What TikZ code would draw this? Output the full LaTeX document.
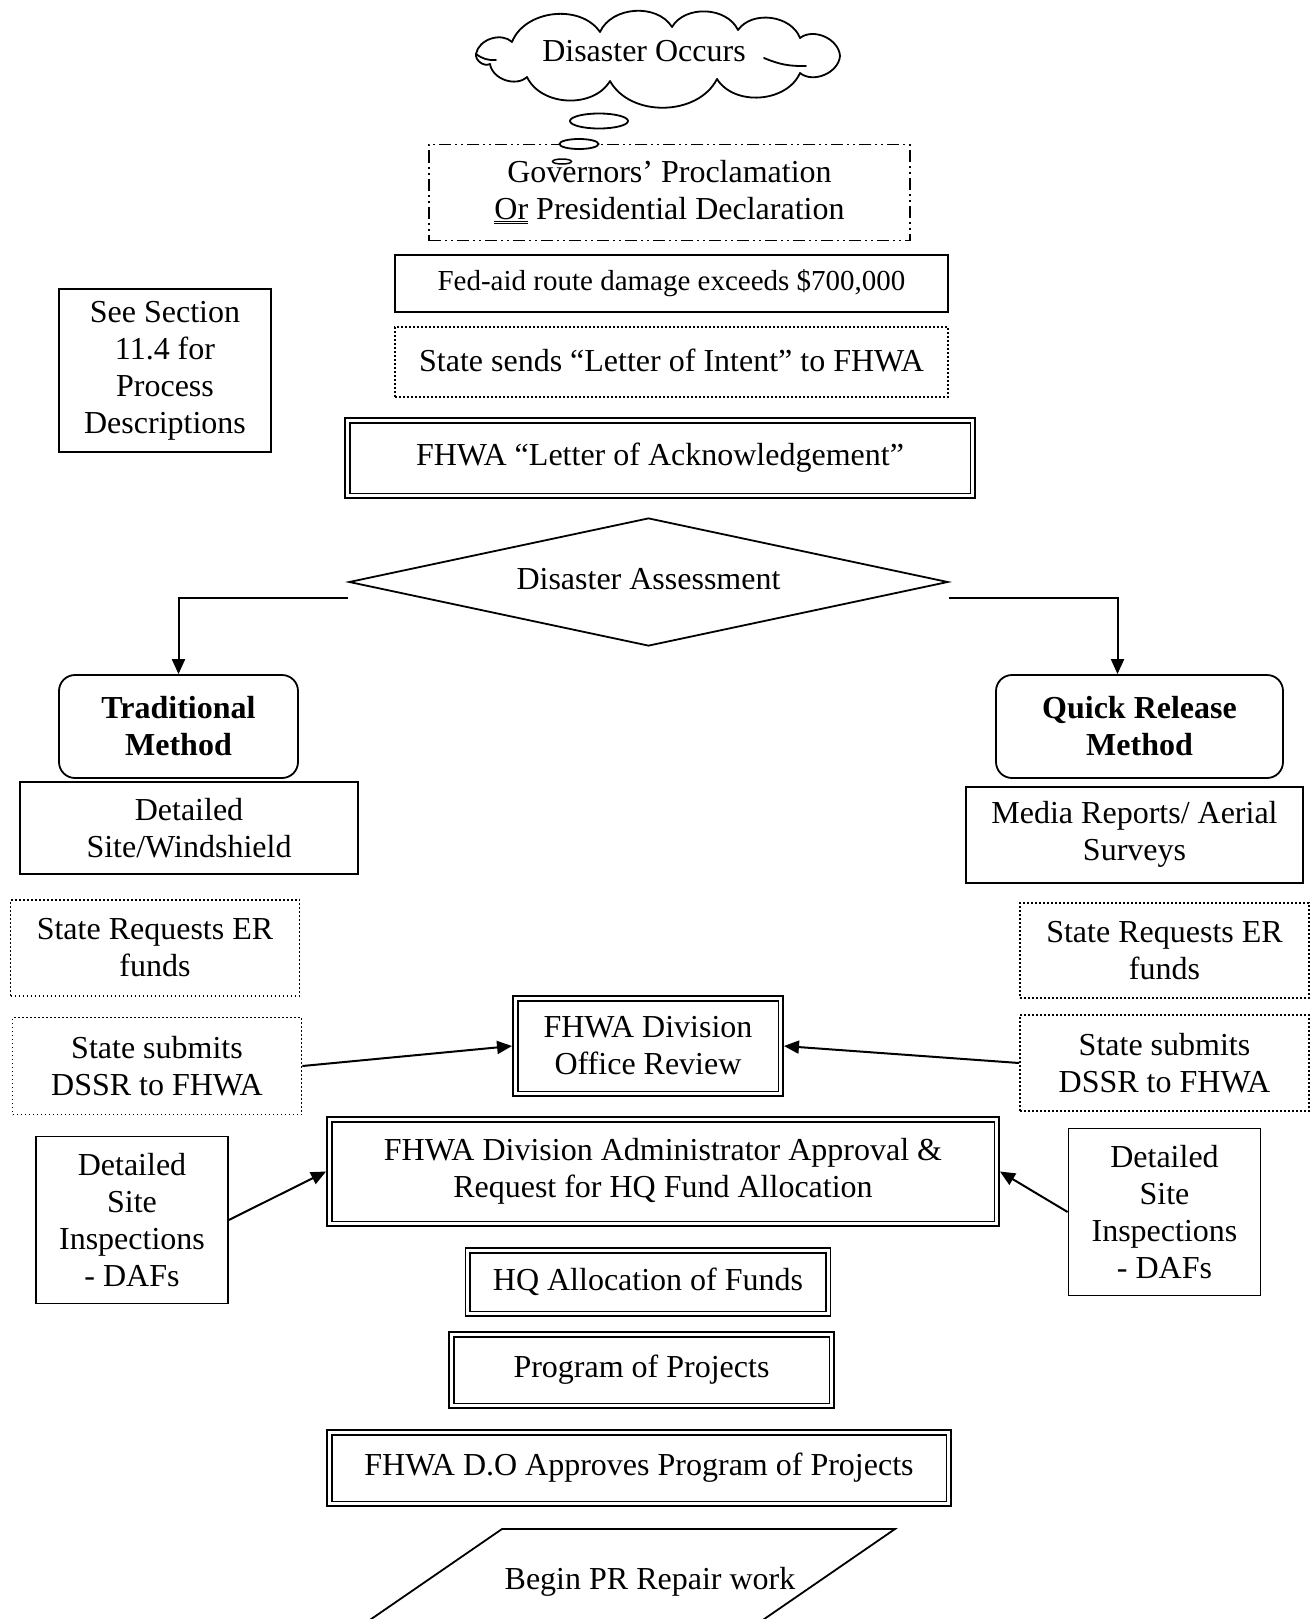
\documentclass[tikz,border=0pt]{standalone}
\usepackage{fontspec}
\setmainfont{Liberation Serif}
\usetikzlibrary{shapes.geometric,arrows.meta}
\newcommand\dblin[1]{\draw[dblinner] ([shift={(5.5pt,-5.5pt)}]#1.north west) rectangle ([shift={(-5.5pt,5.5pt)}]#1.south east);}
\begin{document}
\begin{tikzpicture}[x=1pt,y=-1pt,
  every node/.style={font=\fontsize{32pt}{37pt}\selectfont, inner sep=0pt, align=center},
  box/.style={draw, line width=1.8pt},
  dotbox/.style={draw, line width=1.8pt, dash pattern=on 1.8pt off 2.2pt},
  dashdotbox/.style={draw, line width=1.8pt, dash pattern=on 12pt off 4pt on 2pt off 4pt on 2pt off 4pt},
  dblbox/.style={draw, line width=1.9pt},
  dblinner/.style={draw, line width=1.9pt},
  roundbox/.style={draw, line width=1.8pt, rounded corners=16pt, font=\bfseries\fontsize{32pt}{37pt}\selectfont},
  bubble/.style={draw, ellipse, fill=white, line width=1.8pt},
  puff/.style={bend left=62},
  cloudline/.style={line width=1.8pt, line join=round, line cap=round},
  conn/.style={line width=2pt, -{Triangle[length=15pt,width=13pt]}}
]
\fill[white] (0,0) rectangle (1312,1619);
\useasboundingbox (0,0) rectangle (1312,1619);
\clip (0,0) rectangle (1312,1619);

% cloud
\node (cloud) at (644,51) {Disaster Occurs};
\draw[cloudline] (476,54) to[puff] (512,42) to[puff] (600,32) to[puff] (672,27)
  to[puff] (738,30) to[puff] (800,38) to[puff] (840,56) to[puff] (800,73)
  to[puff] (717,79) to[puff] (610,81) to[puff] (527,77) to[puff] (490,64)
  to[puff] cycle;
\draw[cloudline] (476,54) to[bend right=20] (496,60);
\draw[cloudline] (764,58) to[bend right=12] (806,66);

% governors
\node[dashdotbox, minimum width=481pt, minimum height=96pt] (gov) at (669.5,192.5)
  {Governors’ Proclamation\\\underline{\underline{Or}} Presidential Declaration};

% thought bubbles
\node[bubble, minimum width=58pt, minimum height=15pt] (b1) at (599,121) {};
\node[bubble, minimum width=39pt, minimum height=10pt] (b2) at (579,144) {};
\node[bubble, minimum width=19pt, minimum height=5pt, line width=1.5pt] (b3) at (562,161.5) {};

\node[box, minimum width=553pt, minimum height=57pt, font=\fontsize{29pt}{34pt}\selectfont] (fed) at (671.5,283.5)
  {Fed-aid route damage exceeds \$700,000};

\node[dotbox, minimum width=553pt, minimum height=70pt] (intent) at (671.5,362)
  {\raisebox{3pt}{State sends “Letter of Intent” to FHWA}};

\node[dblbox, minimum width=630pt, minimum height=80pt] (ack) at (660,458)
  {FHWA “Letter of Acknowledgement”};
\dblin{ack}

\node[box, minimum width=212pt, minimum height=163pt] (see) at (165,370.5)
  {See Section\\11.4 for\\Process\\Descriptions};

% diamond
\node[diamond, draw, line width=1.8pt, aspect=4.7, minimum width=599pt, minimum height=128pt] (dia) at (648.5,582)
  {\raisebox{7pt}{Disaster Assessment}};

\node[roundbox, minimum width=239pt, minimum height=103pt] (trad) at (178.5,726.5) {Traditional\\Method};
\node[roundbox, minimum width=287pt, minimum height=103pt] (qr) at (1139.5,726.5) {Quick Release\\Method};

\coordinate (dL) at ([yshift=-16pt]dia.west);
\coordinate (dR) at ([yshift=-16pt]dia.east);
\draw[conn] (dL) -| (trad.north);
\draw[conn] (dR) -| ([xshift=-22pt]qr.north);

\node[box, minimum width=338pt, minimum height=92pt] (site) at (189,828) {Detailed\\Site/Windshield};
\node[box, minimum width=337pt, minimum height=96pt] (media) at (1134.5,834.6) {Media Reports/ Aerial\\Surveys};

\node[dotbox, minimum width=289pt, minimum height=96pt] (reqL) at (155,948) {State Requests ER\\funds};
\node[dotbox, minimum width=289pt, minimum height=95pt] (reqR) at (1164.5,950.5) {State Requests ER\\funds};

\node[dotbox, minimum width=289pt, minimum height=97pt] (dssrL) at (157,1066) {State submits\\DSSR to FHWA};
\node[dotbox, minimum width=289pt, minimum height=96pt] (dssrR) at (1164.5,1063) {State submits\\DSSR to FHWA};

\node[dblbox, minimum width=270pt, minimum height=100pt] (dor) at (648,1046) {FHWA Division\\Office Review};
\dblin{dor}

\node[dblbox, minimum width=672pt, minimum height=109pt] (admin) at (663,1171.5)
  {FHWA Division Administrator Approval \&\\Request for HQ Fund Allocation};
\dblin{admin}

\node[box, minimum width=192pt, minimum height=167pt] (dafL) at (132,1220) {Detailed\\Site\\Inspections\\- DAFs};
\node[box, minimum width=192pt, minimum height=167pt] (dafR) at (1164.5,1212) {Detailed\\Site\\Inspections\\- DAFs};

\draw[conn] (dssrL.east) -- (dor.west);
\draw[conn] (dssrR.west) -- (dor.east);
\draw[conn] (dafL.east) -- (admin.west);
\draw[conn] (dafR.west) -- (admin.east);

\node[dblbox, minimum width=365pt, minimum height=68pt] (hq) at (648,1282) {HQ Allocation of Funds};
\dblin{hq}
\node[dblbox, minimum width=385pt, minimum height=76pt] (pop) at (641.5,1370) {Program of Projects};
\dblin{pop}
\node[dblbox, minimum width=624pt, minimum height=76pt] (doa) at (639,1468) {FHWA D.O Approves Program of Projects};
\dblin{doa}

% parallelogram
\draw[line width=1.8pt] (502,1529) -- (895,1529) -- (741,1635) -- (348,1635) -- cycle;
\node (begin) at (650,1582) {Begin PR Repair work};
\end{tikzpicture}
\end{document}
